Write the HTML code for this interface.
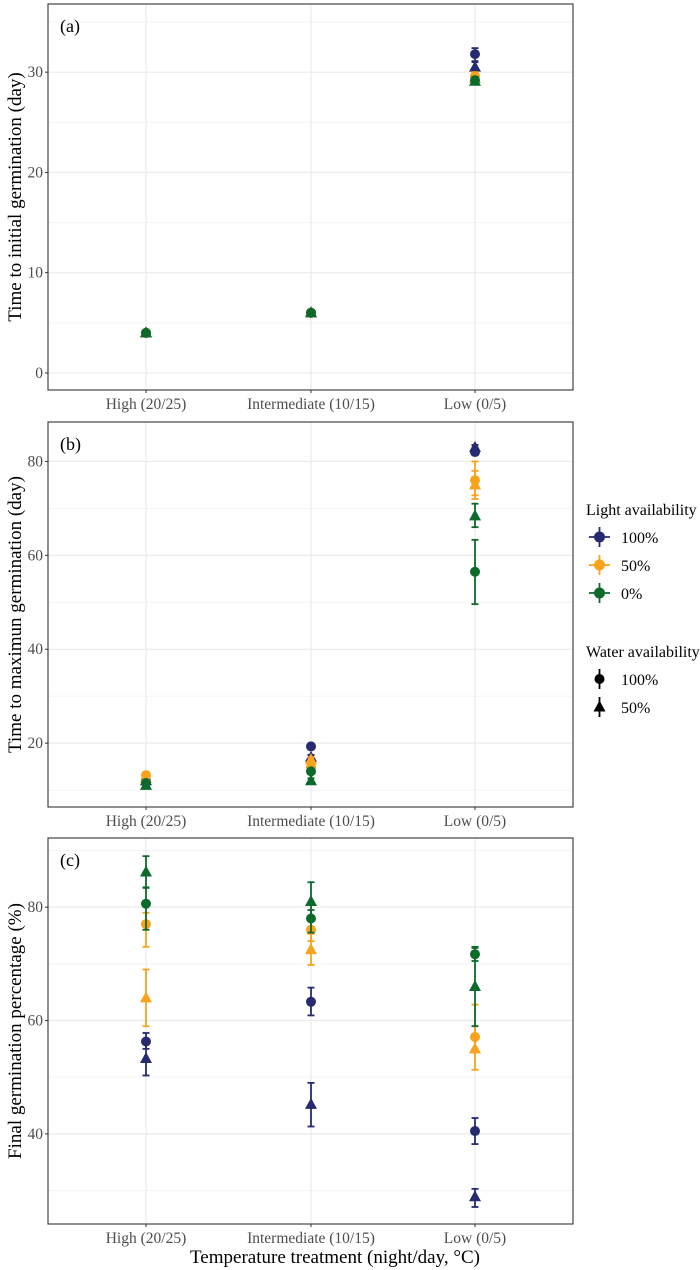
<!DOCTYPE html>
<html><head><meta charset="utf-8"><style>
body{margin:0;background:#fff}
svg{display:block;font-family:"Liberation Serif",serif}
</style></head><body>
<svg id="c" width="700" height="1270"></svg>
<script>
const categories=["High (20/25)","Intermediate (10/15)","Low (0/5)"];
const lightLevels=["100%","50%","0%"];
const waterLevels=["100%","50%"];
// series order: light x water -> [mean per category], [lo], [hi]
const aMean=[[4,6,31.8],[4,6,30.5],[4,6,29.6],[4,6,29.4],[4,6,29.2],[4,6,29.1]];
const aLo=[[4,6,31.1],[4,6,30.0],[4,6,29.2],[4,6,29.0],[4,6,28.9],[4,6,28.8]];
const aHi=[[4,6,32.4],[4,6,31.0],[4,6,30.0],[4,6,29.8],[4,6,29.5],[4,6,29.4]];
const bMean=[[12,19.3,82],[12,17,83],[13.2,15,76],[12.5,16.5,75],[11.5,14,56.5],[11,12,68.4]];
const bLo=[[11.5,18.8,81.5],[11.5,16.5,82.5],[12.5,14.5,72],[12,16,72.8],[11,13.5,49.6],[10.5,11.5,66]];
const bHi=[[12.5,19.8,82.5],[12.5,17.5,83.5],[13.8,15.5,80],[13,17,78],[12,14.5,63.3],[11.5,12.5,71]];
const cMean=[[56.3,63.3,40.5],[53.3,45.2,28.9],[77,76,57.1],[64,72.5,55],[80.6,78,71.7],[86.2,81,66]];
const cLo=[[55,60.9,38.2],[50.3,41.3,27.1],[73,74,55],[59,69.8,51.3],[76,75.5,70.5],[83.5,78,59]];
const cHi=[[57.8,65.8,42.8],[56.3,49,30.3],[79,78,59],[69,75.3,62.8],[83.4,79.5,72.8],[89,84.4,73]];
const aTicks=[0,10,20,30];const aMinor=[5,15,25,35];
const bTicks=[20,40,60,80];const bMinor=[10,30,50,70];
const cTicks=[40,60,80];const cMinor=[30,50,70,90];
const colors=["#252B6E","#F7A31C","#0C6A2A"];
const NS="http://www.w3.org/2000/svg";
const svg=document.getElementById('c');
function mk(t,a,p){const e=document.createElementNS(NS,t);for(const k in a)e.setAttribute(k,a[k]);(p||svg).appendChild(e);return e;}
const L=48,R=573,xs=[146,311,475];
function panel(id,top,bot,vTop,vBot,ticks,minor,title,letter,mean,lo,hi){
 const g=mk('g',{});
 
 
 const y=v=>top+(vTop-v)/(vTop-vBot)*(bot-top);
 minor.forEach(v=>{if(v<vTop&&v>vBot){const l=mk('line',{x1:L,x2:R,y1:y(v),y2:y(v),stroke:'#F2F2F2','stroke-width':0.8},g);}});
 ticks.forEach(v=>{const l=mk('line',{x1:L,x2:R,y1:y(v),y2:y(v),stroke:'#EBEBEB','stroke-width':1.2},g);
  mk('line',{x1:L-3,x2:L,y1:y(v),y2:y(v),stroke:'#333'},g);
  const t=mk('text',{x:L-5,y:y(v)+5,'text-anchor':'end','font-size':15.5,fill:'#4D4D4D'},g);t.textContent=v;
  });
 xs.forEach((x,i)=>{mk('line',{x1:x,x2:x,y1:top,y2:bot,stroke:'#EBEBEB','stroke-width':1.2},g);
  mk('line',{x1:x,x2:x,y1:bot,y2:bot+3,stroke:'#333'},g);
  const t=mk('text',{x:x,y:bot+19,'text-anchor':'middle','font-size':15.5,fill:'#4D4D4D'},g);t.textContent=categories[i];
  });
 const fr=mk('rect',{x:L,y:top,width:R-L,height:bot-top,fill:'none',stroke:'#333','stroke-width':1.1},g);
 
 const lt=mk('text',{x:60,y:top+28,'font-size':18,fill:'#000'},g);lt.textContent=letter;
 
 const yt=mk('text',{x:0,y:0,'font-size':19,fill:'#000','text-anchor':'middle',transform:`translate(21,${(top+bot)/2}) rotate(-90)`},g);yt.textContent=title;
 
 const order=[0,1,2,3,4,5];
 order.forEach(s=>{const col=colors[Math.floor(s/2)],tri=s%2===1;
  mean[s].forEach((m,i)=>{const x=xs[i];const sg=mk('g',{},g);
   
   
   mk('line',{x1:x,x2:x,y1:y(lo[s][i]),y2:y(hi[s][i]),stroke:col,'stroke-width':1.8},sg);
   [lo[s][i],hi[s][i]].forEach(v=>mk('line',{x1:x-3.5,x2:x+3.5,y1:y(v),y2:y(v),stroke:col,'stroke-width':1.8},sg));
   const yy=y(m);
   if(tri)mk('polygon',{points:`${x},${yy-6.5} ${x-6},${yy+4.5} ${x+6},${yy+4.5}`,fill:col},sg);
   else mk('circle',{cx:x,cy:yy,r:5,fill:col},sg);});});
}
panel('a',4,390,36.8,-1.7,aTicks,aMinor,'Time to initial germination (day)','(a)',aMean,aLo,aHi);
panel('b',422,807,88.4,6.4,bTicks,bMinor,'Time to maximun germination (day)','(b)',bMean,bLo,bHi);
panel('c',838,1224,92.2,24.1,cTicks,cMinor,'Final germination percentage (%)','(c)',cMean,cLo,cHi);
const xt=mk('text',{x:335,y:1263,'text-anchor':'middle','font-size':19,fill:'#000'});xt.textContent='Temperature treatment (night/day, °C)';

// legend
const lg=mk('g',{});
const h1=mk('text',{x:586,y:515,'font-size':16},lg);h1.textContent='Light availability';

lightLevels.forEach((lv,i)=>{const yy=537+i*28,col=colors[i];const e=mk('g',{},lg);
 
 mk('line',{x1:589,x2:610,y1:yy,y2:yy,stroke:col,'stroke-width':1.8},e);
 mk('line',{x1:599.5,x2:599.5,y1:yy-10,y2:yy+10,stroke:col,'stroke-width':1.8},e);
 mk('circle',{cx:599.5,cy:yy,r:5.5,fill:col},e);
 const t=mk('text',{x:621,y:yy+6,'font-size':16},e);t.textContent=lv;});
const h2=mk('text',{x:586,y:657,'font-size':16},lg);h2.textContent='Water availability';

waterLevels.forEach((lv,i)=>{const yy=679+i*28;const e=mk('g',{},lg);
 
 mk('line',{x1:599.5,x2:599.5,y1:yy-10,y2:yy+10,stroke:'#000','stroke-width':1.8},e);
 if(i===0)mk('circle',{cx:599.5,cy:yy,r:5,fill:'#000'},e);
 else mk('polygon',{points:`599.5,${yy-6.5} 593.5,${yy+4.5} 605.5,${yy+4.5}`,fill:'#000'},e);
 const t=mk('text',{x:621,y:yy+6,'font-size':16},e);t.textContent=lv;});
</script>
</body></html>
